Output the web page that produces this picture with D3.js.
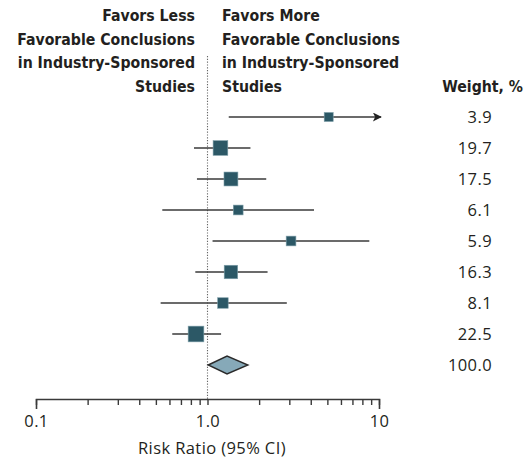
<!DOCTYPE html>
<html>
<head>
<meta charset="utf-8">
<script src="https://cdn.jsdelivr.net/npm/d3@7/dist/d3.min.js"></script>
<style>
  html, body { margin: 0; padding: 0; background: #fff; }
  svg { display: block; }
  text { fill: #231f20; }
</style>
</head>
<body>
<svg id="chart" width="527" height="458"></svg>
<script>
// ---- data ----
const riskRatio = [5.09, 1.19, 1.37, 1.51, 3.07, 1.37, 1.23, 0.857];
const ciLower   = [1.33, 0.834, 0.868, 0.545, 1.07, 0.849, 0.533, 0.623];
const ciUpper   = [14.0, 1.78, 2.20, 4.18, 8.78, 2.24, 2.90, 1.20];
const weights   = [3.9, 19.7, 17.5, 6.1, 5.9, 16.3, 8.1, 22.5];
const pooledRR  = [1.30, 1.01, 1.72]; // estimate, lower, upper
const pooledWeight = 100.0;
const tickValues = [0.1,0.2,0.3,0.4,0.5,0.6,0.7,0.8,0.9,1,2,3,4,5,6,7,8,9,10];
const tickLabels = {0.1: "0.1", 1: "1.0", 10: "10"};
const leftHeader  = ["Favors Less", "Favorable Conclusions", "in Industry-Sponsored", "Studies"];
const rightHeader = ["Favors More", "Favorable Conclusions", "in Industry-Sponsored", "Studies"];
const weightHeader = "Weight, %";
const axisTitle = "Risk Ratio (95% CI)";

// ---- layout ----
const svg = d3.select("#chart");
const x = d3.scaleLog().domain([0.1, 10]).range([36, 379]);
const nRows = riskRatio.length + 1;
const y = d3.scaleLinear().domain([0, nRows - 1]).range([117, 365]);
const sizeScale = d3.scaleLinear().domain([0, 22.5]).range([7.6, 15.7]);
const axisY = 399;
const condFont = "'DejaVu Sans Condensed', 'Liberation Sans Narrow', sans-serif";
const bodyFont = "'Open Sans', 'DejaVu Sans', sans-serif";
const bodySize = 16.5;
const bodySpacing = "0.4px";

// headers
const hdr = svg.append("g").attr("font-family", condFont).attr("font-weight", "bold").attr("font-size", 15.7);
leftHeader.forEach((t, i) => {
  hdr.append("text").attr("x", 195).attr("y", 21 + i * 23.5).attr("text-anchor", "end").text(t);
});
rightHeader.forEach((t, i) => {
  hdr.append("text").attr("x", 222).attr("y", 21 + i * 23.5).attr("text-anchor", "start").text(t);
});
hdr.append("text").attr("x", 523).attr("y", 91.5).attr("text-anchor", "end").text(weightHeader);

// reference line
svg.append("line")
  .attr("x1", x(1)).attr("x2", x(1))
  .attr("y1", 56).attr("y2", axisY)
  .attr("stroke", "#666").attr("stroke-width", 1.1)
  .attr("stroke-dasharray", "1.2,1.6");

// arrow marker
svg.append("defs").append("marker")
  .attr("id", "arrow").attr("viewBox", "0 0 10 10")
  .attr("refX", 9).attr("refY", 5)
  .attr("markerWidth", 10).attr("markerHeight", 9)
  .attr("markerUnits", "userSpaceOnUse")
  .attr("orient", "auto")
  .append("path").attr("d", "M0,0 L10,5 L0,10 L2.5,5 Z").attr("fill", "#222");

// CI lines
const rows = svg.append("g");
riskRatio.forEach((v, i) => {
  const hi = Math.min(ciUpper[i], 10);
  const over = ciUpper[i] > 10;
  rows.append("line")
    .attr("x1", x(ciLower[i])).attr("x2", over ? x(hi) + 2 : x(hi))
    .attr("y1", y(i)).attr("y2", y(i))
    .attr("stroke", "#3a3a3a").attr("stroke-width", 1.6)
    .attr("marker-end", over ? "url(#arrow)" : null);
  const s = sizeScale(weights[i]);
  rows.append("rect")
    .attr("x", x(v) - s / 2).attr("y", y(i) - s / 2)
    .attr("width", s).attr("height", s)
    .attr("fill", "#2c5866").attr("stroke", "#7d9ea8").attr("stroke-width", 0.6);
});

// pooled diamond
const py = y(nRows - 1);
svg.append("path")
  .attr("d", `M${x(pooledRR[1])},${py} L${x(pooledRR[0])},${py - 9} L${x(pooledRR[2])},${py} L${x(pooledRR[0])},${py + 9} Z`)
  .attr("fill", "#86a9b8").attr("stroke", "#2a2a2a").attr("stroke-width", 1.4);

// weights
const wg = svg.append("g").attr("font-family", bodyFont).attr("font-size", bodySize).attr("letter-spacing", bodySpacing);
weights.concat([pooledWeight]).forEach((w, i) => {
  wg.append("text").attr("x", 492).attr("y", y(i) + 5.8).attr("text-anchor", "end").text(w.toFixed(1));
});

// axis
const axis = d3.axisBottom(x)
  .tickValues(tickValues)
  .tickSize(6).tickSizeOuter(10).tickPadding(10)
  .tickFormat(d => tickLabels[d] || "");
const ag = svg.append("g").attr("transform", `translate(0,${axisY})`).call(axis);
ag.select(".domain").attr("stroke", "#3a3a3a").attr("stroke-width", 1.6);
ag.selectAll(".tick line").attr("stroke", "#3a3a3a").attr("stroke-width", 1.4);
ag.selectAll(".tick text").attr("font-family", bodyFont).attr("font-size", bodySize)
  .attr("letter-spacing", bodySpacing).attr("fill", "#231f20");

svg.append("text")
  .attr("x", 212).attr("y", 454)
  .attr("text-anchor", "middle")
  .attr("font-family", bodyFont).attr("font-size", bodySize).attr("letter-spacing", bodySpacing)
  .text(axisTitle);
</script>
</body>
</html>
